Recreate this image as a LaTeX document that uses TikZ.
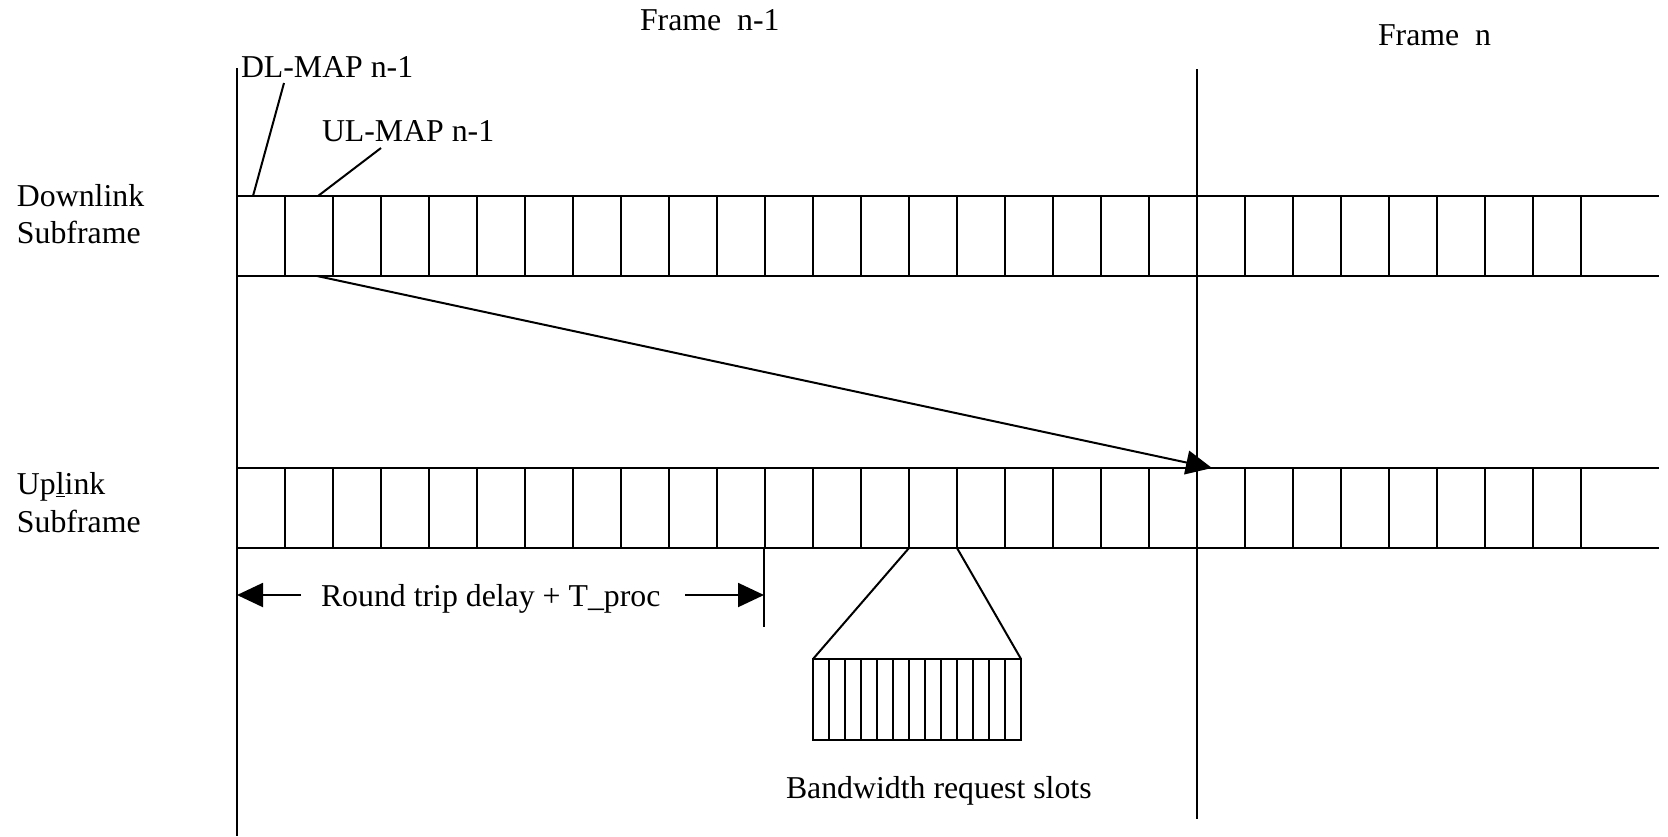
\documentclass[tikz,border=0pt]{standalone}
\usepackage{fontspec}
\setmainfont{Liberation Serif}
\usetikzlibrary{arrows.meta}
\begin{document}
\begin{tikzpicture}[x=0.5pt,y=-0.5pt, line width=1pt,
  lbl/.style={anchor=base west, inner sep=0pt, font=\fontsize{15.9}{19}\selectfont},
  bigtip/.style={-{Triangle[length=13pt,width=12pt]}}]
\useasboundingbox (0,0) rectangle (1668,836);
% texts
\node[lbl] (fn1) at (639,30) {Frame~~n-1};
\node[lbl] (fn) at (1377,45) {Frame~~n};
\node[lbl] (dlmap) at (240,77) {DL-MAP n-1};
\node[lbl] (ulmap) at (321,141) {UL-MAP n-1};
\node[lbl] (dl1) at (16,206) {Downlink};
\node[lbl] (dl2) at (16,243) {Subframe};
\node[lbl] (ul1) at (16,494) {Up\underline{l}ink};
\node[lbl] (ul2) at (16,532) {Subframe};
\node[lbl] (rtd) at (320,606) {Round trip delay + T\_proc};
\node[lbl] (bw) at (785,798) {Bandwidth request slots};
% frame boundaries
\draw (237,68) -- (237,836);
\draw (1197,69) -- (1197,819);
% subframe rows
\foreach \t/\b in {196/276, 468/548}{
  \draw (237,\t) -- (1659,\t);
  \draw (237,\b) -- (1659,\b);
  \foreach \k in {1,...,28}{
    \draw ({237+48*\k},\t) -- ({237+48*\k},\b);
  }
}
% leaders
\coordinate (dlA) at (284,83);
\coordinate (dlB) at (253,196);
\coordinate (ulA) at (381,148);
\coordinate (ulB) at (318,196);
\draw (dlA) -- (dlB);
\draw (ulA) -- (ulB);
% UL-MAP pointer arrow
\coordinate (src) at (317,276);
\coordinate (tgt) at (1212,468);
\draw[bigtip] (src) -- (tgt);
% round trip dimension
\coordinate (rl0) at (301,595);
\coordinate (rl1) at (237,595);
\coordinate (rr0) at (685,595);
\coordinate (rr1) at (764,595);
\draw[bigtip] (rl0) -- (rl1);
\draw[bigtip] (rr0) -- (rr1);
\draw (764,548) -- (764,627);
% bandwidth request expansion
\draw (909,548) -- (813,659);
\draw (957,548) -- (1021,659);
\draw (813,659) rectangle (1021,740);
\foreach \k in {1,...,12}{
  \draw ({813+16*\k},659) -- ({813+16*\k},740);
}
\end{tikzpicture}
\end{document}
